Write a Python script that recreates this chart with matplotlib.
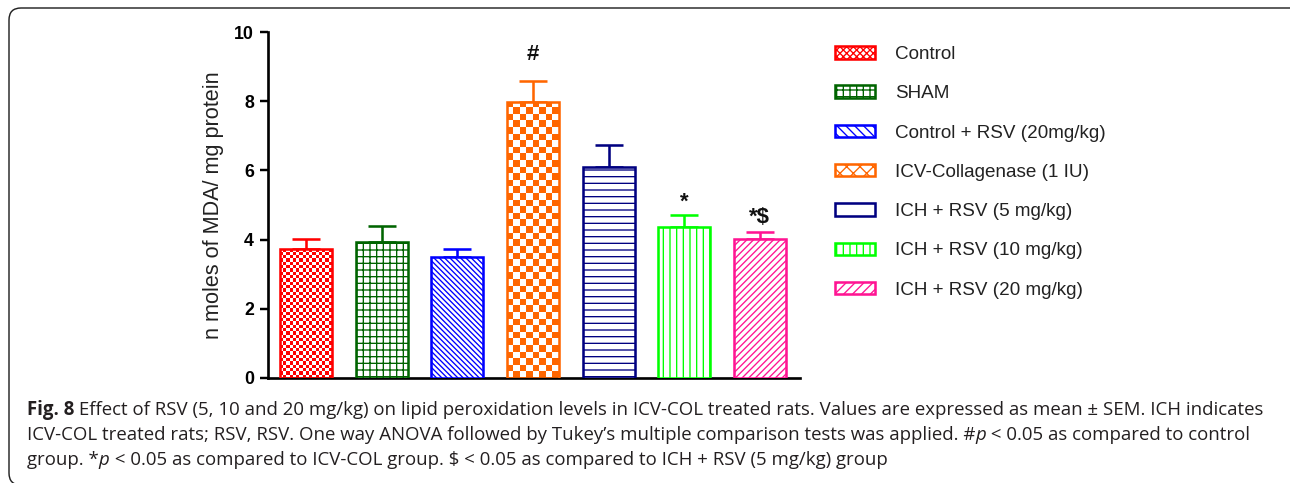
import numpy as np
import matplotlib
import matplotlib.pyplot as plt
from matplotlib.colors import ListedColormap
from matplotlib.patches import Patch, FancyBboxPatch
from matplotlib.transforms import IdentityTransform

# group means and SEM
groups = ["Control", "SHAM", "Control + RSV (20mg/kg)", "ICV-Collagenase (1 IU)",
          "ICH + RSV (5 mg/kg)", "ICH + RSV (10 mg/kg)", "ICH + RSV (20 mg/kg)"]
means = [3.73, 3.94, 3.51, 7.97, 6.11, 4.36, 4.01]
sems = [0.29, 0.46, 0.21, 0.62, 0.62, 0.35, 0.21]
marks = ["", "", "", "#", "", "*", "*$"]
colors = ["#ff0000", "#006400", "#0000ff", "#ff6600", "#000080", "#00ff00", "#ff1493"]
yticks = [0, 2, 4, 6, 8, 10]

DPI = 80
W, H = 1290, 483
plt.rcParams['hatch.linewidth'] = 1.2
plt.rcParams['font.family'] = ['Liberation Sans', 'DejaVu Sans']

fig = plt.figure(figsize=(W / DPI, H / DPI), dpi=DPI)
ax = fig.add_axes([268 / W, 105 / H, 532 / W, 346 / H])
ax.set_xlim(-0.5, 6.53)
ax.set_ylim(0, 10)

# None means the bar gets a checker texture instead of a hatch
hatches = [None, "++", "\\\\\\\\\\", None, "--", "||", "////"]
checker_px = [3.3, None, None, 6.6, None, None, None]
# gap between error cap and significance mark (the # glyph sits lower in its box)
mark_gap = {"#": 0.46, "*": 0.06, "*$": 0.11}

x = np.arange(len(groups))
bars = []
for i in range(len(groups)):
    b = ax.bar(x[i], means[i], width=0.687, facecolor="none" if hatches[i] is None else "white",
               edgecolor=colors[i], linewidth=2.3, hatch=hatches[i], zorder=3)[0]
    bars.append(b)
    ax.errorbar(x[i], means[i], yerr=[[0], [sems[i]]], fmt="none", ecolor=colors[i],
                elinewidth=2.3, capsize=12.5, capthick=2.3, zorder=2)
    if marks[i]:
        ax.text(x[i], means[i] + sems[i] + mark_gap[marks[i]], marks[i], ha="center",
                va="bottom", fontsize=20, fontweight="bold", color="#111111")


def checker(bar, cell, color):
    x0, y0 = bar.get_x(), bar.get_y()
    w, h = bar.get_width(), bar.get_height()
    p0 = ax.transData.transform((x0, y0))
    p1 = ax.transData.transform((x0 + w, y0 + h))
    nx = int(round((p1[0] - p0[0]) / cell))
    ny = int(np.ceil((p1[1] - p0[1]) / cell))
    cy = (h / (p1[1] - p0[1])) * cell
    grid = np.add.outer(np.arange(ny), np.arange(nx)) % 2
    im = ax.imshow(grid, extent=(x0, x0 + w, y0, y0 + ny * cy), origin="lower",
                   cmap=ListedColormap(["white", color]), interpolation="nearest",
                   aspect="auto", zorder=2.5)
    im.set_clip_path(bar)


for i, b in enumerate(bars):
    if checker_px[i]:
        checker(b, checker_px[i], colors[i])
ax.set_xlim(-0.5, 6.53)
ax.set_ylim(0, 10)

for s in ["top", "right"]:
    ax.spines[s].set_visible(False)
for s in ["left", "bottom"]:
    ax.spines[s].set_linewidth(2.4)
ax.set_xticks([])
ax.set_yticks(yticks)
ax.tick_params(axis="y", direction="out", length=7.5, width=2.2, pad=5, labelsize=16)
for t in ax.get_yticklabels():
    t.set_fontweight("bold")
ax.set_ylabel("n moles of MDA/ mg protein", fontsize=19.5, labelpad=9, color="#222222")

# legend
leg_hatch = ["xxxx", "++", "\\\\\\", "xx", "", "||", "///"]
handles = [Patch(facecolor="white", edgecolor=c, hatch=h, linewidth=2.3)
           for c, h in zip(colors, leg_hatch)]
fig.legend(handles, groups, loc="upper left", bbox_to_anchor=(835 / W, 1 - 46 / H),
           frameon=False, fontsize=17, handlelength=2.12, handleheight=0.63,
           handletextpad=1.06, labelspacing=1.18, borderpad=0, borderaxespad=0,
           labelcolor="#222222")

# frame with rounded corner
frame = FancyBboxPatch((9, -2), 1320, 477, boxstyle="round,pad=0,rounding_size=12",
                       transform=IdentityTransform(), facecolor="none",
                       edgecolor="#222222", linewidth=1.3)
fig.patches.append(frame)

# caption
cap_lines = [
    [("Fig. 8", "bold", "normal"),
     (" Effect of RSV (5, 10 and 20 mg/kg) on lipid peroxidation levels in ICV-COL treated rats. "
      "Values are expressed as mean \u00b1 SEM. ICH indicates", "normal", "normal")],
    [("ICV-COL treated rats; RSV, RSV. One way ANOVA followed by Tukey\u2019s multiple comparison "
      "tests was applied. #", "normal", "normal"),
     ("p", "normal", "italic"),
     (" < 0.05 as compared to control", "normal", "normal")],
    [("group. *", "normal", "normal"),
     ("p", "normal", "italic"),
     (" < 0.05 as compared to ICV-COL group. $ < 0.05 as compared to ICH + RSV (5 mg/kg) group",
      "normal", "normal")],
]
renderer = fig.canvas.get_renderer()
line_y = [410, 435, 460]
for line, yy in zip(cap_lines, line_y):
    xx = 27
    for text, weight, style in line:
        t = fig.text(xx, H - yy, text, transform=IdentityTransform(), fontsize=16.8,
                     fontweight=weight, style=style, family=["Open Sans", "DejaVu Sans"],
                     va="center", ha="left", color="#231f20")
        xx += t.get_window_extent(renderer).width

fig.savefig("out.png", dpi=DPI)
